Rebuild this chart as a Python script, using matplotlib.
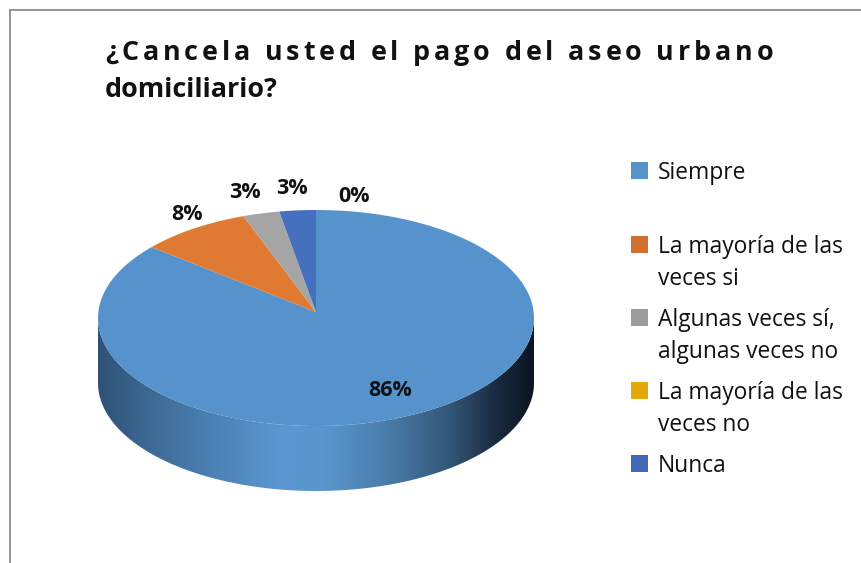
import numpy as np
import matplotlib
matplotlib.use("Agg")
import matplotlib.pyplot as plt
from matplotlib.colors import LinearSegmentedColormap
from matplotlib.patches import Rectangle
from matplotlib.text import Text
from matplotlib.transforms import IdentityTransform

plt.rcParams['font.family'] = ['Open Sans', 'DejaVu Sans']

TITLE_LINE_1 = "¿Cancela usted el pago del aseo urbano"
TITLE_LINE_2 = "domiciliario?"
categories = ["Siempre", "La mayoría de las\nveces si", "Algunas veces sí,\nalgunas veces no",
              "La mayoría de las\nveces no", "Nunca"]
values = [86.4, 8.2, 2.7, 0, 2.7]
value_labels = ["86%", "8%", "3%", "0%", "3%"]
colors = ["#5692CB", "#E07A32", "#A5A5A5", "#E9AE0B", "#4470BE"]
legend_colors = ["#5692CB", "#D2702F", "#9C9C9C", "#E3A80C", "#4168B4"]


class TrackedText(Text):
    """One text whose letters are drawn with extra spacing between them."""

    def __init__(self, *args, tracking=0.0, **kwargs):
        super().__init__(*args, **kwargs)
        self.tracking = tracking

    def draw(self, renderer):
        x0, y0 = self.get_transform().transform(self.get_position())
        s = self.get_text()
        fp = self.get_fontproperties()
        for i, ch in enumerate(s):
            w = renderer.get_text_width_height_descent(s[:i], fp, False)[0] if i else 0
            t = Text(x0 + w + i * self.tracking, y0, ch, fontproperties=fp, color=self.get_color(),
                     va="baseline", ha="left", transform=IdentityTransform())
            t.set_figure(self.get_figure())
            t.draw(renderer)


W, H = 862, 563
fig = plt.figure(figsize=(W / 100, H / 100), dpi=100, facecolor="white")
ax = fig.add_axes([0, 0, 1, 1])
ax.set_xlim(0, W)
ax.set_ylim(H, 0)
ax.axis("off")

# chart frame
ax.plot([10, 10], [H, 10], color="#8c8c8c", lw=1.3)
ax.plot([10, 862], [10, 10], color="#8c8c8c", lw=1.3)

# 3D pie geometry
cx, cy, rx, ry, depth = 316, 318, 218, 108, 65
apex_y = 312

# side wall with gradient
t = np.linspace(np.pi, 0, 300)
xs = cx + rx * np.cos(t)
top = cy + ry * np.sin(t)
bot = top + depth
cmap = LinearSegmentedColormap.from_list("side", [
    (0.0, "#2f5275"), (0.12, "#3d6a95"), (0.28, "#4d84b8"), (0.42, "#5b97d0"),
    (0.52, "#5a96cd"), (0.65, "#4b7fae"), (0.8, "#35597b"), (0.92, "#18293c"), (1.0, "#0c1520")])
grad = np.linspace(0, 1, 512).reshape(1, -1)
im = ax.imshow(grad, extent=[cx - rx, cx + rx, cy + ry + depth, cy], cmap=cmap, aspect="auto", zorder=1)
poly = ax.fill(np.r_[xs, xs[::-1]], np.r_[top, bot[::-1]], color="none", lw=0, zorder=1)[0]
im.set_clip_path(poly)
ax.set_xlim(0, W)
ax.set_ylim(H, 0)

# top face wedges, clockwise from 12 o'clock
total = sum(values)
start = 0.0
for v, c in zip(values, colors):
    sweep = v / total * 2 * np.pi
    a = np.linspace(start, start + sweep, max(2, int(v * 6)))
    wx = cx + rx * np.sin(a)
    wy = cy - ry * np.cos(a)
    if v > 0:
        ax.fill(np.r_[cx, wx], np.r_[apex_y, wy], color=c, lw=0, zorder=2)
    start += sweep

# value labels
label_pos = [(390, 391), (187, 214), (245, 192), (354, 196), (292, 188)]
for txt, (lx, ly) in zip(value_labels, label_pos):
    ax.text(lx, ly, txt, fontsize=15.5, fontweight="bold", color="#111111",
            ha="center", va="center", zorder=3)

# title
title = TrackedText(105, 60, TITLE_LINE_1, tracking=3.85, fontsize=19.4, fontweight="bold",
                    color="#111111", va="baseline", ha="left", zorder=3)
ax.add_artist(title)
ax.text(105, 97, TITLE_LINE_2, fontsize=19.4, fontweight="bold", color="#111111",
        va="baseline", ha="left", zorder=3)

# legend
legend_y = [171, 245, 318, 391, 464]
for name, c, y in zip(categories, legend_colors, legend_y):
    ax.add_patch(Rectangle((631, y - 9), 17, 17, color=c, lw=0))
    for i, line in enumerate(name.split("\n")):
        ax.text(658, y + 2 + i * 32, line, fontsize=16.4, color="#111111", va="center", ha="left")

fig.savefig("out.png", dpi=100)
